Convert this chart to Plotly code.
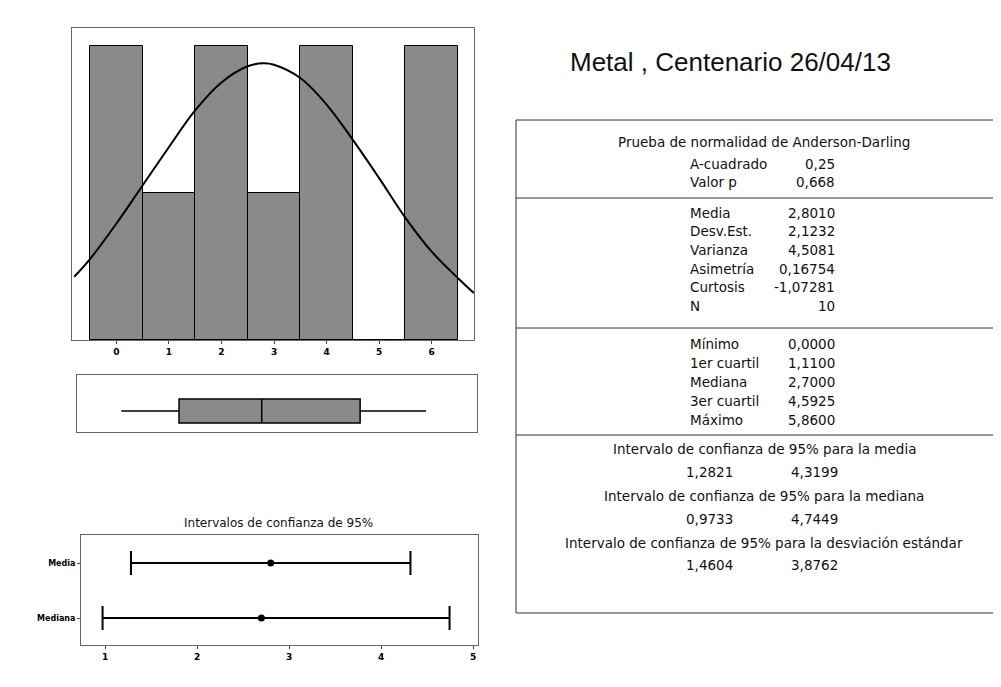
import plotly.graph_objects as go

# ---- data ----
# histogram (bins centred on integers)
bin_centers = [0, 1, 2, 3, 4, 5, 6]
bin_counts = [2, 1, 2, 1, 2, 0, 2]

# fitted normal curve as drawn over the histogram
curve_x = [-0.8, -0.5, 0, 0.5, 1, 1.5, 2, 2.5, 2.8, 3, 3.5, 4, 4.5, 5, 5.5, 6, 6.5, 6.8]
curve_y = [0.43, 0.55, 0.79, 1.05, 1.31, 1.56, 1.75, 1.86, 1.88, 1.87, 1.78, 1.60, 1.36, 1.10, 0.83, 0.60, 0.42, 0.32]

# boxplot summary
box_min = 0.0
box_q1 = 1.11
box_median = 2.7
box_q3 = 4.5925
box_max = 5.86

# 95% confidence intervals
ci_labels = ["Media", "Mediana"]
ci_center = [2.801, 2.7]
ci_low = [1.2821, 0.9733]
ci_high = [4.3199, 4.7449]
ci_ticks = [1, 2, 3, 4, 5]

# summary table
ad_labels = ["A-cuadrado", "Valor p"]
ad_values = ["0,25", "0,668"]
mom_labels = ["Media", "Desv.Est.", "Varianza", "Asimetría", "Curtosis", "N"]
mom_values = ["2,8010", "2,1232", "4,5081", "0,16754", "-1,07281", "10"]
q_labels = ["Mínimo", "1er cuartil", "Mediana", "3er cuartil", "Máximo"]
q_values = ["0,0000", "1,1100", "2,7000", "4,5925", "5,8600"]
ci_titles = [
    "Intervalo de confianza de 95% para la media",
    "Intervalo de confianza de 95% para la mediana",
    "Intervalo de confianza de 95% para la desviación estándar",
]
ci_table_low = ["1,2821", "0,9733", "1,4604"]
ci_table_high = ["4,3199", "4,7449", "3,8762"]

OFF = 8  # page body margin
W, H = 1001 - OFF, 687 - OFF
GRAY = "#8a8a8a"
FRAME = "#666666"
TFONT = "DejaVu Sans"


def px(x):
    return (x - OFF) / W


def py(y):
    return 1 - (y - OFF) / H


def bold(items):
    return [f"<b>{s}</b>" for s in items]


fig = go.Figure()

# histogram
fig.add_trace(go.Bar(
    x=bin_centers, y=bin_counts, width=1,
    marker=dict(color=GRAY, line=dict(color="black", width=1)),
    xaxis="x", yaxis="y", showlegend=False,
))
fig.add_trace(go.Scatter(
    x=curve_x, y=curve_y, mode="lines", line=dict(color="black", width=2, shape="spline"),
    xaxis="x", yaxis="y", showlegend=False,
))

# boxplot
fig.add_trace(go.Box(
    y=[0], q1=[box_q1], median=[box_median], q3=[box_q3],
    lowerfence=[box_min], upperfence=[box_max],
    orientation="h", width=0.42, whiskerwidth=0,
    fillcolor=GRAY, line=dict(color="black", width=1.5),
    xaxis="x2", yaxis="y2", showlegend=False, boxpoints=False,
))

# confidence intervals
ci_pos = [1, 0]
fig.add_trace(go.Scatter(
    x=ci_center, y=ci_pos, mode="markers",
    marker=dict(color="black", size=7),
    error_x=dict(
        type="data", symmetric=False,
        array=[h - c for h, c in zip(ci_high, ci_center)],
        arrayminus=[c - l for c, l in zip(ci_center, ci_low)],
        color="black", thickness=2, width=12,
    ),
    xaxis="x3", yaxis="y3", showlegend=False,
))

axis_frame = dict(showline=True, mirror=True, linecolor=FRAME, linewidth=1,
                  showgrid=False, zeroline=False)

shapes = []
annotations = []

# title
annotations.append(dict(
    x=px(730), y=py(62), xref="paper", yref="paper", text="Metal , Centenario 26/04/13",
    showarrow=False, font=dict(family="Liberation Sans", size=26, color="#111"),
    xanchor="center", yanchor="middle",
))

# intervals panel title
annotations.append(dict(
    x=px(278), y=py(523), xref="paper", yref="paper", text="Intervalos de confianza de 95%",
    showarrow=False, font=dict(family=TFONT, size=12, color="#111"),
    xanchor="center", yanchor="middle",
))

# table frame and separators (open to the right edge of the page)
line_style = dict(color="#333333", width=1)
RIGHT = 1001
TOP, BOTTOM = 120, 613
shapes.append(dict(type="line", xref="paper", yref="paper",
                   x0=px(516), x1=px(516), y0=py(BOTTOM), y1=py(TOP), line=line_style))
for yy in [TOP, 198, 328, 435, BOTTOM]:
    shapes.append(dict(type="line", xref="paper", yref="paper",
                       x0=px(516), x1=px(RIGHT), y0=py(yy), y1=py(yy), line=line_style))

tf = dict(family=TFONT, size=13.5, color="#111")
LABEL_X = 688
VALUE_X = 837
CENTER_X = 764
PITCH = 18.5


def text(x, y, s, anchor):
    annotations.append(dict(x=px(x), y=py(y), xref="paper", yref="paper", text=s,
                            showarrow=False, font=tf, xanchor=anchor, yanchor="middle"))


text(CENTER_X, 142, "Prueba de normalidad de Anderson-Darling", "center")
for i, (lab, val) in enumerate(zip(ad_labels, ad_values)):
    text(LABEL_X, 164 + i * PITCH, lab, "left")
    text(VALUE_X, 164 + i * PITCH, val, "right")
for i, (lab, val) in enumerate(zip(mom_labels, mom_values)):
    text(LABEL_X, 213 + i * PITCH, lab, "left")
    text(VALUE_X, 213 + i * PITCH, val, "right")
for i, (lab, val) in enumerate(zip(q_labels, q_values)):
    text(LABEL_X, 344 + i * 19, lab, "left")
    text(VALUE_X, 344 + i * 19, val, "right")
for i, (title, lo, hi) in enumerate(zip(ci_titles, ci_table_low, ci_table_high)):
    text(CENTER_X, 449 + i * 47, title, "center")
    text(735, 472 + i * 46.5, lo, "right")
    text(840, 472 + i * 46.5, hi, "right")

tickf = dict(family=TFONT, size=9, color="black")

fig.update_layout(
    width=W, height=H, margin=dict(l=0, r=0, t=0, b=0),
    paper_bgcolor="white", plot_bgcolor="white",
    bargap=0, showlegend=False,
    xaxis=dict(domain=[px(72), px(474)], range=[-0.842, 6.804], anchor="y",
               tickvals=bin_centers, ticktext=bold(bin_centers),
               ticks="outside", ticklen=3, tickcolor="#444", tickfont=tickf, **axis_frame),
    yaxis=dict(domain=[py(340), py(28)], range=[0, 2.12], anchor="x",
               showticklabels=False, ticks="", **axis_frame),
    xaxis2=dict(domain=[px(77), px(477)], range=[-0.852, 6.84], anchor="y2",
                showticklabels=False, ticks="", **axis_frame),
    yaxis2=dict(domain=[py(432), py(375)], range=[-0.368, 0.632], anchor="x2",
                showticklabels=False, ticks="", **axis_frame),
    xaxis3=dict(domain=[px(81), px(478)], range=[0.739, 5.054], anchor="y3",
                tickvals=ci_ticks, ticktext=bold(ci_ticks),
                ticks="outside", ticklen=3, tickcolor="#444", tickfont=tickf, **axis_frame),
    yaxis3=dict(domain=[py(645), py(535)], range=[-0.49, 1.51], anchor="x3",
                tickvals=ci_pos, ticktext=bold(ci_labels), ticks="outside", ticklen=3,
                tickcolor="#444", tickfont=dict(family=TFONT, size=8, color="black"),
                **axis_frame),
    shapes=shapes, annotations=annotations,
)

fig.write_html("out.html")
